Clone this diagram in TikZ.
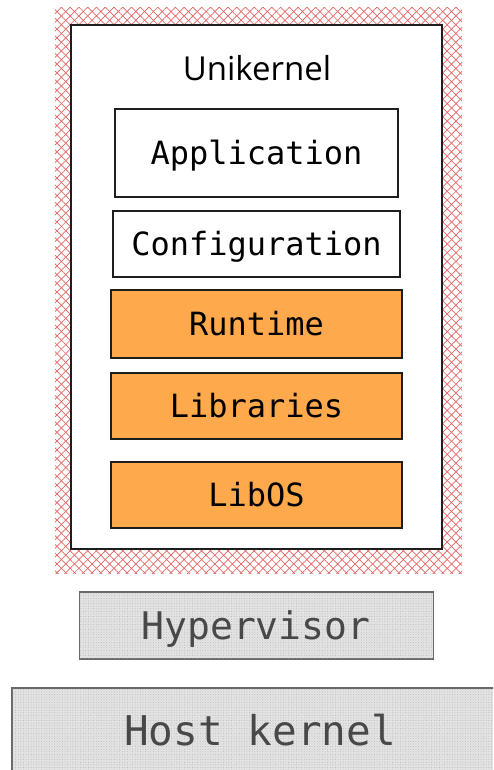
\documentclass[tikz,border=0pt]{standalone}
\usepackage{fontspec}
\setmainfont{DejaVu Sans}
\newfontfamily\monofont{DejaVu Sans Mono}
\newfontfamily\handfont{Open Sans}
\usetikzlibrary{patterns.meta}
\definecolor{inkblack}{RGB}{30,30,30}
\definecolor{layerorange}{RGB}{255,169,77}
\definecolor{hatchred}{RGB}{228,100,100}
\definecolor{hostedge}{RGB}{105,105,105}
\definecolor{hostfill}{RGB}{226,226,226}
\definecolor{hostdots}{RGB}{175,175,175}
\definecolor{hosttext}{RGB}{72,72,72}
\begin{document}
\begin{tikzpicture}[x=1pt,y=-1pt,
  layerbox/.style={draw=inkblack, line width=1.4pt, inner sep=0pt,
    font=\monofont\fontsize{32}{32}\selectfont, text=black,
    text height=23.4pt, text depth=0pt},
  whitelayer/.style={layerbox, fill=white},
  orangelayer/.style={layerbox, fill=layerorange},
  hostbox/.style={draw=hostedge, line width=1.3pt, fill=hostfill,
    postaction={pattern={Dots[radius=0.45pt,distance=2.6pt]}, pattern color=hostdots}},
  hostlabel/.style={text=hosttext, inner sep=0pt, text depth=0pt},
  redhatch/.style={pattern={Lines[angle=#1,distance=6.2pt,line width=0.7pt]}, pattern color=hatchred}
]
\clip (0,0) rectangle (493,770);
\fill[white] (0,0) rectangle (493,770);

% isolation boundary around the unikernel image
\path[redhatch=45] (55,8) rectangle (462,573);
\path[redhatch=-45] (55,8) rectangle (462,573);

% unikernel image
\node[draw=inkblack, line width=1.6pt, fill=white, inner sep=0pt,
  minimum width=371pt, minimum height=524pt] (uk) at (256.5,287) {};
\node[font=\handfont\fontsize{33}{33}\selectfont, inner sep=0pt] (uktitle) at (257,68) {Unikernel};

% layers inside the image
\node[whitelayer, minimum width=283pt, minimum height=88pt] (app) at (256.5,153) {Application};
\node[whitelayer, minimum width=287pt, minimum height=66pt] (conf) at (256.5,244) {Configuration};
\node[orangelayer, minimum width=291pt, minimum height=68pt] (rt) at (256.5,324) {Runtime};
\node[orangelayer, minimum width=291pt, minimum height=66pt] (libs) at (256.5,406) {Libraries};
\node[orangelayer, minimum width=291pt, minimum height=66pt] (libos) at (256.5,495) {LibOS};

% hypervisor and host
\node[hostbox, minimum width=354pt, minimum height=67pt] (hv) at (256.5,625.5) {};
\node[hostlabel, font=\monofont\fontsize{38}{38}\selectfont, text height=27.7pt] (hvlabel) at (256,626) {Hypervisor};
\node[hostbox, minimum width=500pt, minimum height=100pt] (host) at (262,738) {};
\node[hostlabel, font=\monofont\fontsize{41}{41}\selectfont, text height=29.9pt] (hostlabeltext) at (260,731) {Host kernel};
\end{tikzpicture}
\end{document}
